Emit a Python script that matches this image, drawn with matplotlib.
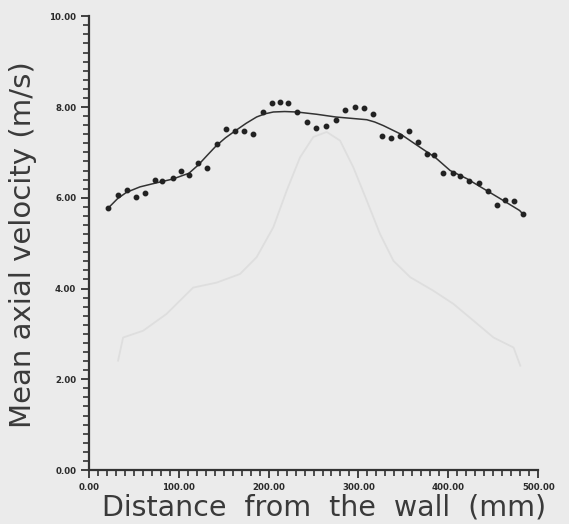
import matplotlib.pyplot as plt
from matplotlib.ticker import MultipleLocator, FormatStrFormatter

# measured mean axial velocity across the duct
dist_mm = [21.5, 32.6, 42.7, 52.3, 63.1, 73.5, 82.0, 93.2, 102.1, 111.4,
           121.7, 131.1, 142.2, 152.2, 162.6, 173.0, 183.0, 193.4, 203.4, 212.7,
           221.9, 231.3, 242.4, 252.8, 263.6, 274.7, 285.1, 296.2, 306.6, 316.6,
           326.6, 336.3, 346.3, 356.7, 366.7, 376.0, 384.5, 394.5, 404.6, 413.1,
           423.2, 433.6, 443.6, 454.0, 463.3, 473.3, 483.0]
velocity = [5.77, 6.05, 6.17, 6.01, 6.11, 6.40, 6.38, 6.43, 6.59, 6.51,
            6.76, 6.65, 7.19, 7.51, 7.47, 7.47, 7.40, 7.89, 8.09, 8.11,
            8.09, 7.89, 7.67, 7.54, 7.59, 7.72, 7.94, 8.01, 7.98, 7.85,
            7.37, 7.32, 7.37, 7.47, 7.23, 6.97, 6.95, 6.55, 6.55, 6.49,
            6.38, 6.32, 6.14, 5.83, 5.95, 5.92, 5.64]

# smoothed fit through the points
fit_mm = [21.5, 32.0, 42.0, 57.0, 73.5, 93.0, 111.4, 121.7, 132.0, 142.0,
          152.0, 162.6, 175.0, 186.7, 196.0, 205.3, 218.0, 231.3, 253.5, 274.7,
          292.0, 309.2, 318.0, 327.7, 346.3, 368.6, 385.3, 402.0, 420.6, 439.1,
          457.7, 479.2, 483.0]
fit_vel = [5.77, 5.98, 6.12, 6.24, 6.32, 6.41, 6.54, 6.72, 6.94, 7.15,
           7.32, 7.47, 7.64, 7.78, 7.85, 7.89, 7.90, 7.89, 7.84, 7.78,
           7.75, 7.72, 7.67, 7.59, 7.41, 7.11, 6.89, 6.60, 6.42, 6.20,
           5.98, 5.72, 5.64]

# faint profile printed through from the reverse side of the sheet
ghost_mm = [32.6, 38.2, 60.5, 86.5, 116.1, 142.2, 168.2, 186.7, 205.3, 220.2,
            235.0, 249.8, 264.7, 279.5, 294.3, 309.2, 324.0, 338.9, 357.5, 383.4,
            405.7, 428.0, 450.2, 472.5, 480.0]
ghost_vel = [2.41, 2.92, 3.07, 3.44, 4.02, 4.13, 4.32, 4.69, 5.35, 6.16,
             6.89, 7.34, 7.45, 7.26, 6.67, 5.94, 5.20, 4.61, 4.25, 3.95,
             3.66, 3.29, 2.92, 2.70, 2.30]

bg = '#ebebeb'
ink = '#333333'

fig = plt.figure(figsize=(5.69, 5.24), dpi=100, facecolor=bg)
ax = fig.add_axes([0.156, 0.103, 0.790, 0.866], facecolor=bg)

ax.plot(ghost_mm, ghost_vel, color='#dedede', lw=1.3, zorder=1)
ax.plot(fit_mm, fit_vel, color=ink, lw=1.1, zorder=2)
ax.plot(dist_mm, velocity, 'o', color='#222222', ms=3.2, zorder=3)

ax.set_xlim(0, 500)
ax.set_ylim(0, 10)

for side in ('top', 'right'):
    ax.spines[side].set_visible(False)
for side in ('left', 'bottom'):
    ax.spines[side].set_color(ink)
    ax.spines[side].set_linewidth(1.6)

ax.xaxis.set_major_locator(MultipleLocator(100))
ax.xaxis.set_minor_locator(MultipleLocator(10))
ax.yaxis.set_major_locator(MultipleLocator(2))
ax.yaxis.set_minor_locator(MultipleLocator(0.2))
ax.xaxis.set_major_formatter(FormatStrFormatter('%.2f'))
ax.yaxis.set_major_formatter(FormatStrFormatter('%.2f'))

ax.tick_params(which='major', direction='out', length=6, width=1.3,
               color=ink, labelsize=6.2, labelcolor='#2a2a2a', pad=3)
ax.tick_params(which='minor', direction='out', length=4, width=1.2, color=ink)
for lab in ax.get_xticklabels() + ax.get_yticklabels():
    lab.set_fontweight('bold')

fig.text(0.570, 0.031, 'Distance  from  the  wall  (mm)', fontsize=20.5,
         color='#3a3a3a', ha='center', va='center')
fig.text(0.040, 0.534, 'Mean axial velocity (m/s)', fontsize=21,
         color='#3a3a3a', ha='center', va='center', rotation=90)

fig.savefig('out.png', dpi=100, facecolor=bg)
